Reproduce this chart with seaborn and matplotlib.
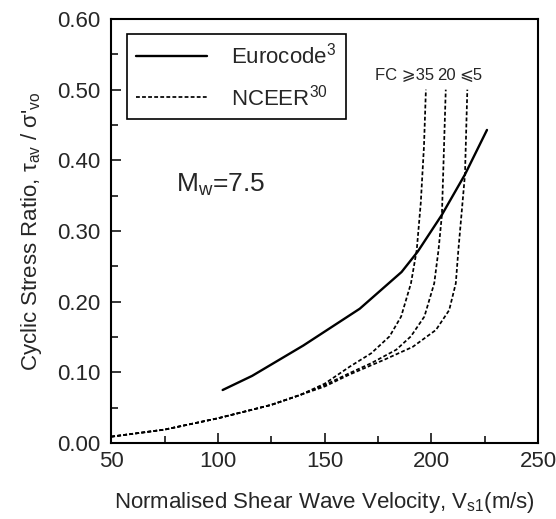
import numpy as np
import pandas as pd
import matplotlib
matplotlib.use("Agg")
import matplotlib.pyplot as plt
import seaborn as sns

# Eurocode curve
euro_vs = [102.2, 116.0, 140.0, 166.4, 186.0, 193.6, 204.9, 215.7, 226.0]
euro_crr = [0.075, 0.095, 0.138, 0.190, 0.242, 0.271, 0.323, 0.380, 0.443]

# NCEER curves, shared lower part then splitting by fines content
nceer_low_vs = [50, 75, 100, 125, 138.5]
nceer_low_crr = [0.009, 0.019, 0.035, 0.054, 0.068]

fc35_vs = [150, 161.7, 171.8, 180.4, 185.8, 190.4, 193.1, 195.0, 196.5, 197.4]
fc35_crr = [0.084, 0.108, 0.127, 0.151, 0.179, 0.226, 0.273, 0.340, 0.420, 0.500]

fc20_vs = [150, 161.7, 171.8, 183.5, 190.4, 196.7, 201.3, 203.3, 204.9, 206.7]
fc20_crr = [0.082, 0.099, 0.113, 0.132, 0.151, 0.179, 0.226, 0.273, 0.323, 0.500]

fc5_vs = [150, 161.7, 178.0, 191.2, 202.1, 208.3, 211.4, 212.6, 215.7, 216.8]
fc5_crr = [0.080, 0.097, 0.118, 0.136, 0.160, 0.188, 0.226, 0.273, 0.380, 0.500]

fc_labels = ["FC \u2a7e35", "20", "\u2a7d5"]

sns.set_style("white")
plt.rcParams["font.family"] = ["Liberation Sans", "DejaVu Sans"]
plt.rcParams["mathtext.default"] = "regular"

fig = plt.figure(figsize=(5.56, 5.19), dpi=100)
ax = fig.add_axes([0.2, 0.1464, 0.768, 0.817])

df_euro = pd.DataFrame({"vs": euro_vs, "crr": euro_crr})
sns.lineplot(data=df_euro, x="vs", y="crr", ax=ax, color="black", lw=1.7,
             sort=False, estimator=None)

dash = (0, (2.2, 1.3))
for vs, crr in [(fc35_vs, fc35_crr), (fc20_vs, fc20_crr), (fc5_vs, fc5_crr)]:
    df = pd.DataFrame({"vs": nceer_low_vs + vs, "crr": nceer_low_crr + crr})
    sns.lineplot(data=df, x="vs", y="crr", ax=ax, color="black", lw=1.25,
                 linestyle=dash, sort=False, estimator=None)

ax.set_xlim(50, 250)
ax.set_ylim(0, 0.6)
ax.set_xticks([50, 100, 150, 200, 250])
ax.set_xticks([75, 125, 175, 225], minor=True)
ax.set_yticks(np.round(np.arange(0, 0.61, 0.1), 2))
ax.set_yticks([0.05, 0.15, 0.25, 0.35, 0.45, 0.55], minor=True)
ax.set_yticklabels([f"{v:.2f}" for v in ax.get_yticks()])
ax.tick_params(which="major", direction="in", length=7, width=1.3, labelsize=16,
               top=False, right=False, bottom=True, left=True)
ax.tick_params(axis="y", which="major", pad=8)
ax.tick_params(axis="x", which="major", pad=6)
ax.tick_params(which="minor", direction="in", length=5, width=1.3,
               top=False, right=False, bottom=True, left=True)
for s in ax.spines.values():
    s.set_linewidth(1.5)
    s.set_color("black")

ax.set_xlabel("Normalised Shear Wave Velocity, V$_{s1}$(m/s)", fontsize=16, labelpad=13)
ax.set_ylabel("Cyclic Stress Ratio, \u03c4$_{av}$ / \u03c3'$_{vo}$", fontsize=16, labelpad=9)

ax.text(80.5, 0.365, "M$_{w}$=7.5", fontsize=19, va="center", ha="left")
ax.text(173.4, 0.52, fc_labels[0], fontsize=12, va="center", ha="left")
ax.text(207.0, 0.52, fc_labels[1], fontsize=12, va="center", ha="center")
ax.text(218.3, 0.52, fc_labels[2], fontsize=12, va="center", ha="center")

handles = [plt.Line2D([], [], color="black", lw=1.7),
           plt.Line2D([], [], color="black", lw=1.25, linestyle=dash)]
leg = ax.legend(handles, ["Eurocode$^{3}$", "NCEER$^{30}$"], loc="upper left",
                bbox_to_anchor=(0.037, 0.965), borderaxespad=0, fontsize=16,
                handlelength=3.2, handletextpad=1.1, labelspacing=0.7,
                borderpad=0.4, fancybox=False, framealpha=1)
leg.get_frame().set_edgecolor("black")
leg.get_frame().set_linewidth(1.2)

fig.savefig("out.png", dpi=100)
